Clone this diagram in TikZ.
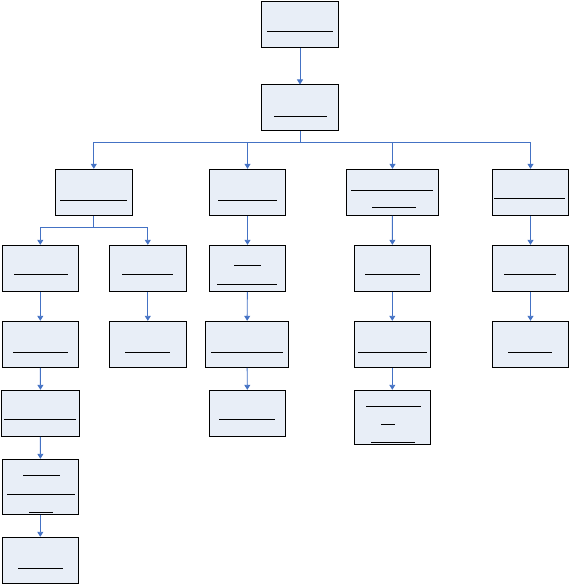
\documentclass[tikz,border=0pt]{standalone}
\usepackage{tikz}
\usetikzlibrary{arrows.meta, positioning}

\definecolor{linkblue}{RGB}{68,114,196}
\definecolor{boxfill}{RGB}{232,238,247}

\begin{document}
\begin{tikzpicture}[
        x=1pt, y=-1pt,
        box/.style={draw=black, rectangle, line width=1pt, fill=boxfill, minimum width=76pt, minimum height=46pt, inner sep=0pt},
        arrow/.style={-{Triangle[length=5pt, width=6pt]}, line width=0.9pt, draw=linkblue},
        link/.style={line width=0.9pt, draw=linkblue},
        uline/.style={line width=0.8pt, draw=black}
    ]
        \useasboundingbox (0,0) rectangle (569,585);

        % --- Topo ---
        \node[box, minimum width=77pt] (raiz) at (300, 24.3) {};
        \node[box, minimum width=77pt] (topo) at (300, 108)  {};
        \draw[arrow] (raiz) -- (topo);

        % --- Nivel 2 ---
        \node[box, minimum width=77pt] (ga) at (93.8, 192.3)  {};
        \node[box] (gc) at (247.5, 192.3) {};
        \node[box, minimum width=92pt] (gd) at (392.5, 192.3) {};
        \node[box] (ge) at (530.5, 192.3) {};

        \coordinate (barra) at (300, 142);
        \draw[link] (topo.south) -- (barra);
        \draw[arrow] (barra) -| (ga.north);
        \draw[arrow] (barra) -| (gc.north);
        \draw[arrow] (barra) -| (gd.north);
        \draw[arrow] (barra) -| (ge.north);

        % --- Coluna A ---
        \node[box] (a1) at (40.3, 268.3) {};
        \node[box, minimum width=77pt] (b1) at (147.8, 268.3) {};
        \coordinate (barraA) at (93.8, 227.3);
        \draw[link] (ga.south) -- (barraA);
        \draw[arrow] (barraA) -| (a1.north);
        \draw[arrow] (barraA) -| (b1.north);

        \node[box] (a2) at (40.3, 344.3) {};
        \node[box, minimum width=78.4pt] (a3) at (40.5, 413.3) {};
        \node[box, minimum height=55pt] (a4) at (40.3, 486.8) {};
        \node[box] (a5) at (40.3, 560.3) {};
        \draw[arrow] (a1) -- (a2);
        \draw[arrow] (a2) -- (a3);
        \draw[arrow] (a3) -- (a4);
        \draw[arrow] (a4) -- (a5);

        \node[box, minimum width=77pt] (b2) at (147.8, 344.3) {};
        \draw[arrow] (b1) -- (b2);

        % --- Coluna C ---
        \node[box] (c1) at (247.5, 268.3) {};
        \node[box, minimum width=83.4pt] (c2) at (247, 344.3) {};
        \node[box] (c3) at (247.5, 413.3) {};
        \draw[arrow] (gc) -- (c1);
        \draw[arrow] (c1) -- (c2);
        \draw[arrow] (c2) -- (c3);

        % --- Coluna D ---
        \node[box] (d1) at (392.3, 268.3) {};
        \node[box] (d2) at (392.3, 344.3) {};
        \node[box, minimum height=54pt] (d3) at (392.3, 417.3) {};
        \draw[arrow] (gd) -- (d1);
        \draw[arrow] (d1) -- (d2);
        \draw[arrow] (d2) -- (d3);

        % --- Coluna E ---
        \node[box] (e1) at (530.5, 268.3) {};
        \node[box] (e2) at (530.5, 344.3) {};
        \draw[arrow] (ge) -- (e1);
        \draw[arrow] (e1) -- (e2);

        % --- Linhas dentro das caixas ---
        \draw[uline] (267, 31.3) -- (333, 31.3);
        \draw[uline] (274, 116.3) -- (327, 116.3);
        \draw[uline] (60, 200.3) -- (127, 200.3);
        \draw[uline] (218, 200.3) -- (277, 200.3);
        \draw[uline] (351, 190.3) -- (433, 190.3);
        \draw[uline] (372, 207.3) -- (416, 207.3);
        \draw[uline] (494, 198.3) -- (565, 198.3);
        \draw[uline] (14, 274.3) -- (68, 274.3);
        \draw[uline] (122, 274.3) -- (173, 274.3);
        \draw[uline] (234, 265.3) -- (261, 265.3);
        \draw[uline] (217, 284.3) -- (277, 284.3);
        \draw[uline] (365, 274.3) -- (420, 274.3);
        \draw[uline] (504, 274.3) -- (556, 274.3);
        \draw[uline] (13, 352.3) -- (68, 352.3);
        \draw[uline] (125, 352.3) -- (170, 352.3);
        \draw[uline] (211, 352.3) -- (283, 352.3);
        \draw[uline] (358, 352.3) -- (427, 352.3);
        \draw[uline] (508, 352.3) -- (552, 352.3);
        \draw[uline] (4, 419.3) -- (76, 419.3);
        \draw[uline] (219, 419.3) -- (275, 419.3);
        \draw[uline] (366, 406.3) -- (421, 406.3);
        \draw[uline] (381, 424.3) -- (395, 424.3);
        \draw[uline] (371, 442.3) -- (415, 442.3);
        \draw[uline] (23, 475.3) -- (60, 475.3);
        \draw[uline] (7, 494.3) -- (75, 494.3);
        \draw[uline] (29, 512.3) -- (53, 512.3);
        \draw[uline] (18, 568.3) -- (63, 568.3);

    \end{tikzpicture}
\end{document}
